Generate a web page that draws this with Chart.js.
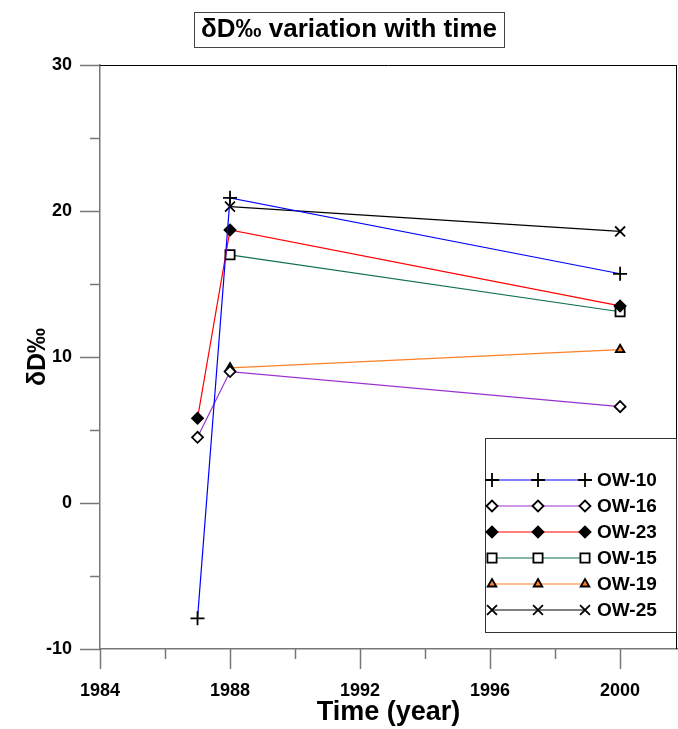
<!DOCTYPE html>
<html>
<head>
<meta charset="utf-8">
<script src="https://cdn.jsdelivr.net/npm/chart.js"></script>
<style>
  html, body { margin: 0; padding: 0; background: #fff; }
  canvas { display: block; }
</style>
</head>
<body>
<canvas id="dChart" width="678" height="729"></canvas>
<script>
// values
const years = [1987, 1988, 2000];
const wellNames = ['OW-10', 'OW-16', 'OW-23', 'OW-15', 'OW-19', 'OW-25'];
const ow10 = [-7.9, 20.9, 15.7];
const ow16 = [4.5, 9.0, 6.6];
const ow23 = [5.8, 18.7, 13.5];
const ow15 = [null, 17.0, 13.1];
const ow19 = [null, 9.25, 10.5];
const ow25 = [null, 20.3, 18.6];
const xTicks = [1984, 1988, 1992, 1996, 2000];
const yTicks = [-10, 0, 10, 20, 30];

const FONT = '"Liberation Sans", Arial, sans-serif';

function pts(vals) {
  return years.map((yr, i) => ({ x: yr, y: vals[i] })).filter(p => p.y !== null);
}

const styles = [
  { color: '#0000ff', pointStyle: 'cross', radius: 7, fill: '#000', border: '#000' },
  { color: '#9b30d0', pointStyle: 'rectRot', radius: 5.5, fill: '#fff', border: '#000' },
  { color: '#ff0000', pointStyle: 'rectRot', radius: 5.5, fill: '#000', border: '#000' },
  { color: '#10704a', pointStyle: 'rect', radius: 6.5, fill: '#fff', border: '#000' },
  { color: '#ff7f27', pointStyle: 'triangle', radius: 5, fill: '#ff7f27', border: '#000' },
  { color: '#000000', pointStyle: 'crossRot', radius: 7, fill: '#000', border: '#000' }
];
const series = [ow10, ow16, ow23, ow15, ow19, ow25];

const datasets = series.map((vals, i) => ({
  label: wellNames[i],
  data: pts(vals),
  borderColor: styles[i].color,
  borderWidth: 1.2,
  pointStyle: styles[i].pointStyle,
  pointRadius: styles[i].radius,
  pointBackgroundColor: styles[i].fill,
  pointBorderColor: styles[i].border,
  pointBorderWidth: 1.8,
  tension: 0
}));

// ticks, frame, boxed title and in-plot legend
const decor = {
  id: 'decor',
  afterDraw(chart) {
    const ctx = chart.ctx;
    const a = chart.chartArea;
    const xs = chart.scales.x, ys = chart.scales.y;
    ctx.save();
    ctx.strokeStyle = '#777';
    ctx.lineWidth = 1.5;
    ctx.beginPath();
    for (let v = -10; v <= 30; v += 5) {
      const y = Math.round(ys.getPixelForValue(v)) + 0.5;
      const len = v % 10 === 0 ? 20 : 10;
      ctx.moveTo(a.left, y); ctx.lineTo(a.left - len, y);
    }
    for (let v = 1984; v <= 2000; v += 2) {
      const x = Math.round(xs.getPixelForValue(v)) + 0.5;
      const len = v % 4 === 0 ? 20 : 10;
      ctx.moveTo(x, a.bottom); ctx.lineTo(x, a.bottom + len);
    }
    ctx.stroke();
    // top and right frame
    ctx.strokeStyle = '#000';
    ctx.lineWidth = 1;
    ctx.beginPath();
    ctx.moveTo(a.left, a.top + 0.5); ctx.lineTo(a.right, a.top + 0.5);
    ctx.moveTo(a.right - 0.5, a.top); ctx.lineTo(a.right - 0.5, a.bottom);
    ctx.stroke();

    // title with box
    ctx.font = 'bold 26px ' + FONT;
    ctx.fillStyle = '#000';
    ctx.textAlign = 'center';
    ctx.textBaseline = 'middle';
    const title = 'δD‰ variation with time';
    const tw = ctx.measureText(title).width;
    const cx = 349, cy = 30;
    ctx.fillText(title, cx, cy);
    ctx.strokeStyle = '#444';
    ctx.lineWidth = 1;
    ctx.strokeRect(Math.round(cx - tw / 2 - 7) + 0.5, 12.5, Math.round(tw + 14), 35);

    // legend
    ctx.strokeStyle = '#333';
    ctx.strokeRect(485.5, 438.5, 191, 194);
    ctx.font = 'bold 19px ' + FONT;
    ctx.textAlign = 'left';
    chart.data.datasets.forEach((ds, i) => {
      const y = 480 + i * 26;
      ctx.strokeStyle = ds.borderColor;
      ctx.lineWidth = 1.2;
      ctx.beginPath();
      ctx.moveTo(492, y); ctx.lineTo(585, y);
      ctx.stroke();
      [492, 538, 585].forEach(x => {
        ctx.fillStyle = ds.pointBackgroundColor;
        ctx.strokeStyle = ds.pointBorderColor;
        ctx.lineWidth = ds.pointBorderWidth;
        Chart.helpers.drawPoint(ctx, { pointStyle: ds.pointStyle, radius: ds.pointRadius, borderWidth: ds.pointBorderWidth, rotation: 0 }, x, y);
      });
      ctx.fillStyle = '#000';
      ctx.fillText(ds.label, 597, y + 1);
    });
    ctx.restore();
  }
};

new Chart(document.getElementById('dChart').getContext('2d'), {
  type: 'line',
  data: { datasets: datasets },
  options: {
    responsive: false,
    animation: false,
    layout: { autoPadding: false, padding: { top: 65, right: 1, left: 0, bottom: 0 } },
    plugins: { legend: { display: false }, tooltip: { enabled: false } },
    scales: {
      x: {
        type: 'linear',
        min: 1984,
        max: 2001.75,
        afterBuildTicks: s => { s.ticks = xTicks.map(v => ({ value: v })); },
        afterFit: s => { s.height = 80; s.paddingLeft = 0; s.paddingRight = 0; },
        grid: { display: false, drawTicks: false },
        border: { display: true, color: '#777', width: 1.5 },
        ticks: { color: '#000', font: { family: FONT, size: 18, weight: 'bold' }, padding: 31, maxRotation: 0, callback: v => String(v) },
        title: { display: true, text: 'Time (year)', color: '#000', font: { family: FONT, size: 27, weight: 'bold' }, padding: { top: 0, bottom: 0 } }
      },
      y: {
        min: -10,
        max: 30,
        afterBuildTicks: s => { s.ticks = yTicks.map(v => ({ value: v })); },
        afterFit: s => { s.width = 100; s.paddingTop = 0; s.paddingBottom = 0; },
        grid: { display: false, drawTicks: false },
        border: { display: true, color: '#777', width: 1.5 },
        ticks: { color: '#000', font: { family: FONT, size: 18, weight: 'bold' }, padding: 28, callback: v => String(v) },
        title: { display: true, text: 'δD‰', color: '#000', font: { family: FONT, size: 25, weight: 'bold' }, padding: { top: 23, bottom: 0 } }
      }
    }
  },
  plugins: [decor]
});
</script>
</body>
</html>
